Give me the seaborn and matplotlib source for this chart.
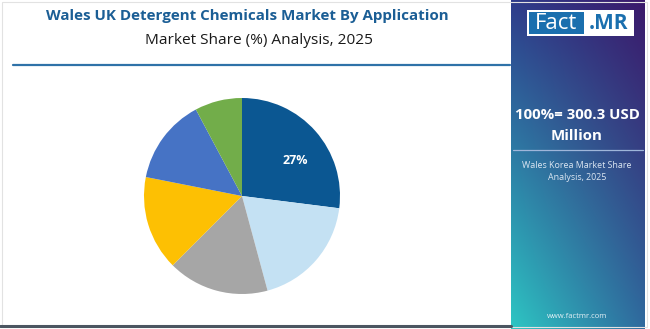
import numpy as np
import matplotlib
matplotlib.use("Agg")
import matplotlib.pyplot as plt
from matplotlib.patches import Rectangle
from matplotlib.colors import to_rgb
import seaborn as sns

# Application segments and their market share (%), 2025
segments = ["Segment A", "Segment B", "Segment C", "Segment D", "Segment E", "Segment F"]
shares = [27.0, 18.8, 16.7, 15.6, 14.1, 7.8]
shown_labels = ["27%", "", "", "", "", ""]
slice_colors = ["#0B5792", "#C4E1F3", "#A6A6A6", "#FDC003", "#4673C5", "#72AD4A"]

title = "Wales UK Detergent Chemicals Market By Application"
subtitle = "Market Share (%) Analysis, 2025"
total_text = ["100%= 300.3 USD", "Million"]
panel_caption = ["Wales Korea Market Share", "Analysis, 2025"]
site = "www.factmr.com"

sns.set_theme(style="white")
plt.rcParams["font.family"] = ["Open Sans", "DejaVu Sans"]

W, H = 650, 329
fig = plt.figure(figsize=(W / 100, H / 100), dpi=100)
fig.patch.set_facecolor("white")


def fx(px):
    return px / W


def fy(py):
    return 1 - py / H


# light outer frame
fig.add_artist(Rectangle((fx(2), fy(327)), fx(645), 325 / H, transform=fig.transFigure,
                         fill=False, edgecolor="#E2E2E2", linewidth=0.8))

# titles
fig.text(fx(247), fy(16), title, ha="center", va="center", fontsize=10.9,
         fontweight="bold", color="#1B5E95")
fig.text(fx(259), fy(40), subtitle, ha="center", va="center", fontsize=11.1,
         color="#1A1A1A")

# divider under the titles
fig.add_artist(plt.Line2D([fx(13), fx(510)], [fy(65), fy(65)], transform=fig.transFigure,
                          color="#2F72A8", linewidth=1.6))
# bottom rule
fig.add_artist(plt.Line2D([fx(0), fx(511)], [fy(326), fy(326)], transform=fig.transFigure,
                          color="#4B5661", linewidth=2.2))

# pie
cx, cy, r = 242, 196, 98
ax = fig.add_axes([fx(cx - r), fy(cy + r), 2 * r / W, 2 * r / H])
wedges, texts = ax.pie(shares, labels=shown_labels, colors=slice_colors, startangle=90,
                       counterclock=False, labeldistance=0.55,
                       wedgeprops=dict(linewidth=0),
                       textprops=dict(color="white", fontsize=9, fontweight="bold"))
ax.set_xlim(-1, 1)
ax.set_ylim(-1, 1)
ax.set_aspect("equal")
ax.axis("off")

# gradient side panel
px0, px1 = 511, 645
pax = fig.add_axes([fx(px0), 0, (px1 - px0) / W, 1])
tl, tr = np.array(to_rgb("#2E3C8B")), np.array(to_rgb("#3B196B"))
bl, br = np.array(to_rgb("#2DC6C3")), np.array(to_rgb("#2F6A9E"))
ny, nx = 200, 80
yy = np.linspace(0, 1, ny)[:, None, None]  # 0 top, 1 bottom
xx = np.linspace(0, 1, nx)[None, :, None]
top = tl * (1 - xx) + tr * xx
bot = bl * (1 - xx) + br * xx
grad = top * (1 - yy) + bot * yy
pax.imshow(grad, aspect="auto", extent=[0, 1, 0, 1], origin="upper")
pax.set_xlim(0, 1)
pax.set_ylim(0, 1)
pax.axis("off")

# logo
fig.add_artist(Rectangle((fx(527), fy(36)), fx(634) - fx(527), 26 / H,
                         transform=fig.transFigure, facecolor="white", edgecolor="none"))
fig.add_artist(Rectangle((fx(529), fy(34)), fx(584) - fx(529), 22 / H,
                         transform=fig.transFigure, facecolor="#1A6FAE", edgecolor="none"))
fig.text(fx(556), fy(23.5), "Fact", ha="center", va="center", fontsize=16,
         color="white")
fig.text(fx(608), fy(23.5), ".MR", ha="center", va="center", fontsize=15,
         fontweight="bold", color="#1A6FAE")

# panel texts
fig.text(fx(577), fy(115), total_text[0], ha="center", va="center", fontsize=10.8,
         fontweight="bold", color="white")
fig.text(fx(577), fy(136), total_text[1], ha="center", va="center", fontsize=10.8,
         fontweight="bold", color="white")
fig.add_artist(plt.Line2D([fx(513), fx(643)], [fy(150), fy(150)], transform=fig.transFigure,
                          color="#9FB6DA", linewidth=0.9))
fig.text(fx(577), fy(165), panel_caption[0], ha="center", va="center", fontsize=6.4,
         color="#DCE6F2")
fig.text(fx(577), fy(177), panel_caption[1], ha="center", va="center", fontsize=6.4,
         color="#DCE6F2")
fig.text(fx(577), fy(316), site, ha="center", va="center", fontsize=5.5,
         color="#E4F0F6")

fig.savefig("out.png", dpi=100, facecolor="white")
